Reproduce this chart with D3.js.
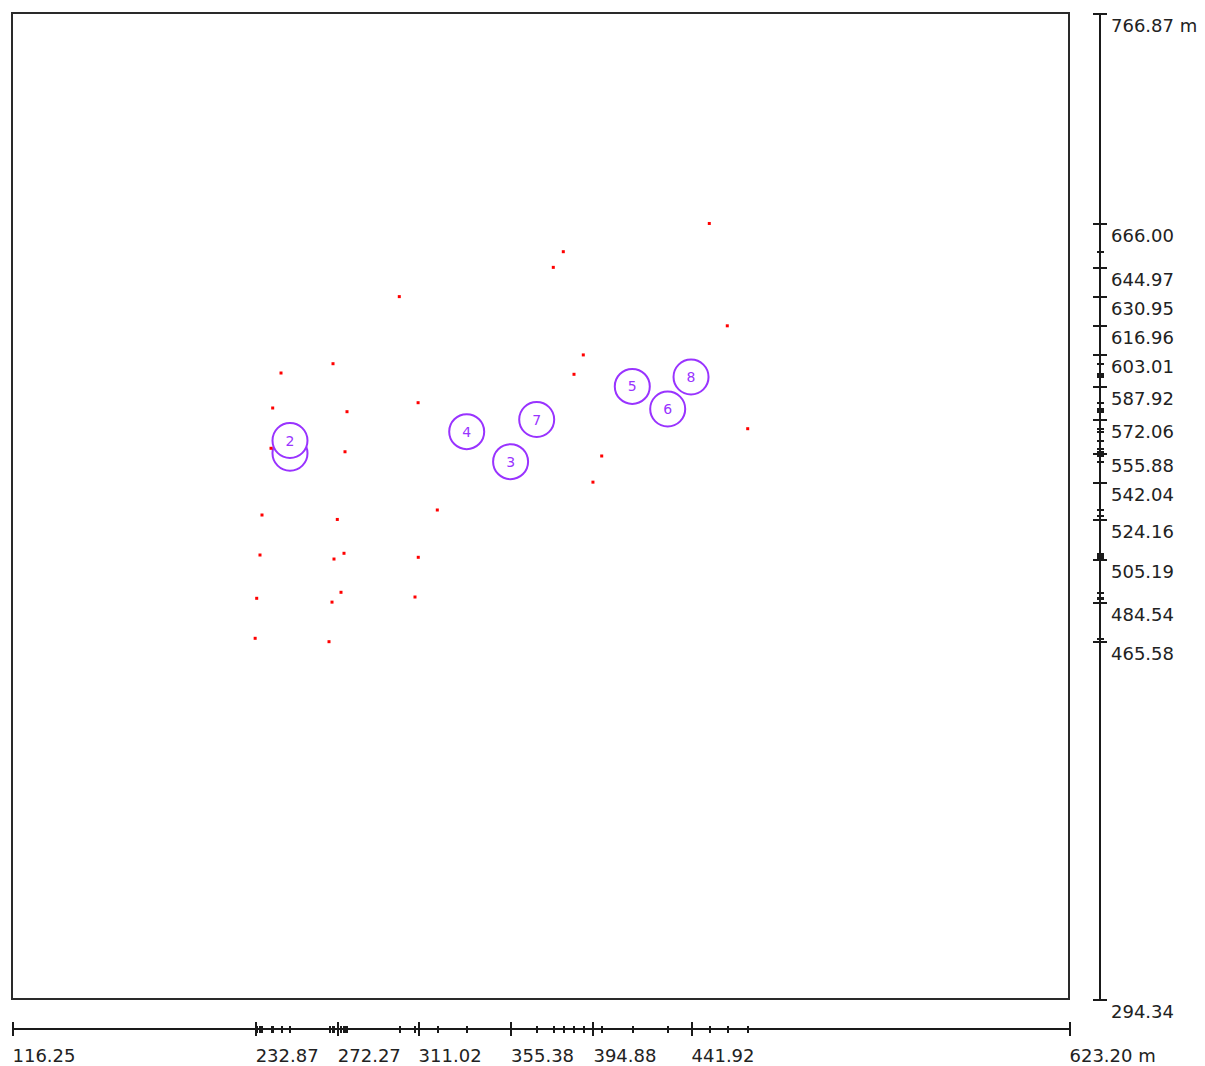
<!DOCTYPE html>
<html lang="en">
	<head>
		<meta charset="utf-8">
		<title>Station plot</title>
		<script src="https://cdnjs.cloudflare.com/ajax/libs/d3/7.8.5/d3.min.js" charset="utf-8"></script>
		<style type="text/css">
			body {
				margin: 0;
				background: #ffffff;
			}
			.frame {
				fill: none;
				stroke: #2a2a2a;
				stroke-width: 2px;
			}
			.axis path,
			.axis line {
				fill: none;
				stroke: #1a1a1a;
				stroke-width: 2px;
				shape-rendering: crispEdges;
			}
			.axis text {
				font-family: "DejaVu Sans", sans-serif;
				font-size: 18px;
				fill: #222222;
			}
			.pt {
				fill: #ff0000;
			}
			.stn circle {
				fill: #ffffff;
				stroke: #9933ff;
				stroke-width: 2px;
			}
			.stn text {
				font-family: "DejaVu Sans", sans-serif;
				font-size: 14px;
				fill: #9933ff;
			}
		</style>
	</head>
	<body>
		<div id="maincontainer">
		<script type="text/javascript">

			// survey points (metres)
			var ptX = [450.68, 380.66, 375.86, 302.00, 459.31, 390.25, 270.21, 245.27, 385.79, 311.02,
				241.28, 276.92, 469.10, 275.96, 240.47, 399.08, 394.88, 320.23, 236.15, 272.27,
				235.19, 275.48, 270.68, 311.10, 233.61, 274.04, 269.73, 309.53, 232.87, 268.29];
			var ptY = [666.00, 652.48, 644.97, 630.95, 616.96, 603.01, 598.80, 594.34, 593.72, 580.11,
				577.57, 575.80, 567.65, 556.60, 558.26, 554.57, 542.04, 528.69, 526.29, 524.16,
				507.12, 507.94, 505.19, 506.02, 486.37, 489.25, 484.54, 486.99, 467.20, 465.58];

			// stations (circles)
			var stnId = ["1", "2", "3", "4", "5", "6", "7", "8"];
			var stnX = [249.58, 249.58, 355.38, 334.33, 413.75, 430.73, 367.90, 441.92];
			var stnY = [555.88, 561.99, 551.84, 566.21, 587.92, 577.09, 572.06, 592.43];

			// labelled ticks
			var xTicks = [116.25, 232.87, 272.27, 311.02, 355.38, 394.88, 441.92, 623.20];
			var yTicks = [766.87, 666.00, 644.97, 630.95, 616.96, 603.01, 587.92, 572.06,
				555.88, 542.04, 524.16, 505.19, 484.54, 465.58, 294.34];

			var W = 1205, H = 1066;
			var fl = 12, fr = 1069, ft = 13, fb = 999;
			var axisX = 1100, axisY = 1029;
			var rad = 17.5;

			var x = d3.scaleLinear().domain([xTicks[0], xTicks[xTicks.length-1]]).range([fl, fr]);
			var y = d3.scaleLinear().domain([yTicks[yTicks.length-1], yTicks[0]]).range([fb, ft]);

			var svg = d3.select("#maincontainer")
				.append("svg")
				.attr("width", W)
				.attr("height", H);

			svg.append("rect")
				.attr("class", "frame")
				.attr("x", fl)
				.attr("y", ft)
				.attr("width", fr - fl)
				.attr("height", fb - ft);

			var allX = ptX.concat(stnX);
			var allY = ptY.concat(stnY);

			function fmt(dom){
				return function(d){
					var s = d3.format(".2f")(d);
					return d == dom[1] ? s + " m" : s;
				};
			}

			// bottom axis: minor ticks at every coordinate, then labelled ticks
			var gxm = svg.append("g")
				.attr("class", "axis")
				.attr("transform", "translate(0," + axisY + ")")
				.call(d3.axisBottom(x).tickValues(allX).tickSize(3.5).tickFormat(""));
			gxm.select(".domain").remove();
			gxm.selectAll(".tick line").attr("y1", -3.5);

			var gx = svg.append("g")
				.attr("class", "axis")
				.attr("transform", "translate(0," + axisY + ")")
				.call(d3.axisBottom(x).tickValues(xTicks).tickSize(7).tickSizeOuter(0).tickFormat(fmt(x.domain())));
			gx.select(".domain").attr("d", "M" + fl + ",0H" + fr);
			gx.selectAll(".tick line").attr("y1", -7);
			gx.selectAll(".tick text")
				.attr("text-anchor", "start")
				.attr("y", 33)
				.attr("dy", 0);

			// right axis
			var gym = svg.append("g")
				.attr("class", "axis")
				.attr("transform", "translate(" + axisX + ",0)")
				.call(d3.axisRight(y).tickValues(allY).tickSize(3.5).tickFormat(""));
			gym.select(".domain").remove();
			gym.selectAll(".tick line").attr("x1", -3.5);

			var gy = svg.append("g")
				.attr("class", "axis")
				.attr("transform", "translate(" + axisX + ",0)")
				.call(d3.axisRight(y).tickValues(yTicks).tickSize(7).tickSizeOuter(0).tickFormat(fmt(y.domain())));
			gy.select(".domain").attr("d", "M0," + ft + "V" + fb);
			gy.selectAll(".tick line").attr("x1", -7);
			gy.selectAll(".tick text")
				.attr("x", 11)
				.attr("y", 18)
				.attr("dy", 0);

			// a label is hidden when a later (white filled) circle sits over it
			function covered(i){
				for (var j=i+1;j<stnId.length;j++){
					var dx = x(stnX[j]) - x(stnX[i]);
					var dy = y(stnY[j]) - y(stnY[i]);
					if (Math.sqrt(dx*dx+dy*dy) < rad) return true;
				}
				return false;
			}

			// stations
			var stn = svg.selectAll(".stn")
				.data(stnId)
				.enter()
				.append("g")
				.attr("class", "stn")
				.attr("transform", function(d, i){
					return "translate(" + x(stnX[i]) + "," + y(stnY[i]) + ")";
				});
			stn.append("circle").attr("r", rad);
			stn.filter(function(d, i){ return !covered(i); })
				.append("text")
				.attr("text-anchor", "middle")
				.attr("dy", "0.36em")
				.text(function(d){ return d; });

			// points
			svg.selectAll(".pt")
				.data(ptX)
				.enter()
				.append("rect")
				.attr("class", "pt")
				.attr("x", function(d){ return x(d) - 1.5; })
				.attr("y", function(d, i){ return y(ptY[i]) - 1.5; })
				.attr("width", 3)
				.attr("height", 3);
		</script>
		</div>
	</body>
</html>
